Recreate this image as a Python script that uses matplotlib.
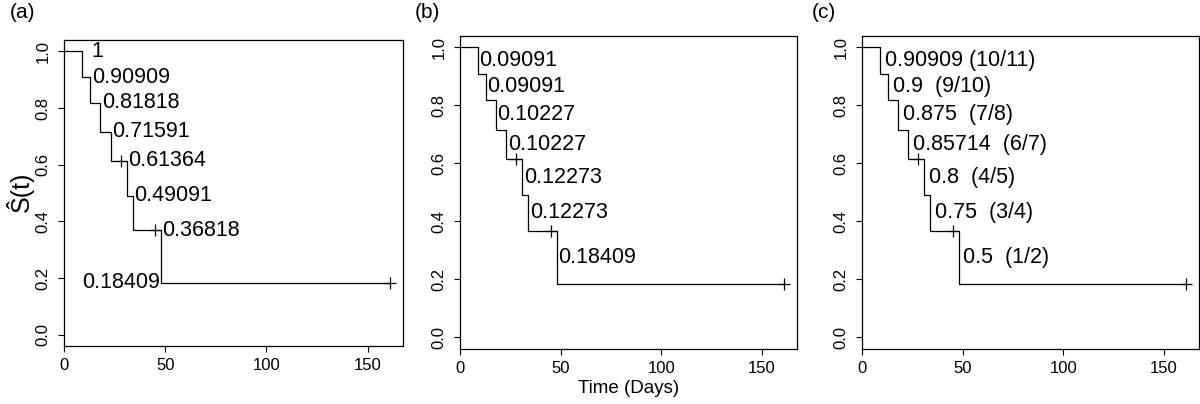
import numpy as np
import matplotlib.pyplot as plt

plt.rcParams['font.family'] = ['Liberation Sans', 'DejaVu Sans']

# Kaplan-Meier data (event times, survival after each event)
event_times = [9, 13, 18, 23, 31, 34, 48]
surv = [0.90909, 0.81818, 0.71591, 0.61364, 0.49091, 0.36818, 0.18409]
censor_times = [28, 45, 161]
censor_surv = [0.61364, 0.36818, 0.18409]
last_time = 161

# label texts for the three panels
labels_a = ["1", "0.90909", "0.81818", "0.71591", "0.61364", "0.49091", "0.36818", "0.18409"]
labels_b = ["0.09091", "0.09091", "0.10227", "0.10227", "0.12273", "0.12273", "0.18409"]
labels_c = ["0.90909", "0.9", "0.875", "0.85714", "0.8", "0.75", "0.5"]
fracs_c = ["10/11", "9/10", "7/8", "6/7", "4/5", "3/4", "1/2"]
panel_names = ["(a)", "(b)", "(c)"]

tick_fs = 12
text_fs = 15.5
lw = 0.9

fig = plt.figure(figsize=(12, 4.04), dpi=100)
ax_pos = [[64 / 1200, 58 / 404, 339 / 1200, 306 / 404],
          [460 / 1200, 55 / 404, 337 / 1200, 313.5 / 404],
          [862 / 1200, 55 / 404, 337 / 1200, 313.5 / 404]]
axes = [fig.add_axes(p) for p in ax_pos]

x_step = [0] + event_times + [last_time]
y_step = [1.0] + surv + [surv[-1]]
prev = [1.0] + surv[:-1]
mids = [(p + s) / 2 for p, s in zip(prev, surv)]

for ax in axes:
    ax.step(x_step, y_step, where='post', color='black', linewidth=lw)
    ax.plot(censor_times, censor_surv, linestyle='none', marker='+', color='black',
            markersize=8, markeredgewidth=0.9)
    ax.set_xlim(0, last_time * 1.04)
    ax.set_ylim(-0.04, 1.04)
    ax.set_xticks([0, 50, 100, 150])
    ax.set_yticks([0.0, 0.2, 0.4, 0.6, 0.8, 1.0])
    ax.set_yticklabels(["0.0", "0.2", "0.4", "0.6", "0.8", "1.0"], rotation=90, va='center')
    ax.tick_params(axis='both', direction='out', length=4.5, width=0.8, labelsize=tick_fs)
    ax.tick_params(axis='y', pad=5)
    ax.tick_params(axis='x', pad=4)
    for sp in ax.spines.values():
        sp.set_linewidth(0.9)

# (a) survival levels
ax = axes[0]
a_x = [event_times[1]] + event_times[1:] + [event_times[-1]]
a_y = [1.0] + surv
for i, (lab, x, y) in enumerate(zip(labels_a, a_x, a_y)):
    if i == len(labels_a) - 1:
        ax.annotate(lab, (x, y), xytext=(-1, 0), textcoords='offset points',
                    ha='right', va='center', fontsize=text_fs)
    else:
        ax.annotate(lab, (x, y), xytext=(1, 0), textcoords='offset points',
                    ha='left', va='center', fontsize=text_fs)

# (b) drops in survival
ax = axes[1]
for lab, x, y in zip(labels_b, event_times, mids):
    ax.annotate(lab, (x, y), xytext=(1, 0), textcoords='offset points',
                ha='left', va='center', fontsize=text_fs)
ax.set_xlabel("Time (Days)", fontsize=13.5, labelpad=3)

# (c) conditional survival
ax = axes[2]
for i, (lab, fr, x, y) in enumerate(zip(labels_c, fracs_c, event_times, mids)):
    sep = " " if i == 0 else "  "
    ax.annotate(lab + sep + "(" + fr + ")", (x, y), xytext=(3.3, 0), textcoords='offset points',
                ha='left', va='center', fontsize=text_fs)

fig.text(20 / 1200, 1 - 192 / 404, "Ŝ(t)", rotation=90, ha='center', va='center', fontsize=18)
for name, xp in zip(panel_names, [10, 415, 812]):
    fig.text(xp / 1200, 1 - 12 / 404, name, ha='left', va='center', fontsize=15)

plt.savefig("out.png", dpi=100)
